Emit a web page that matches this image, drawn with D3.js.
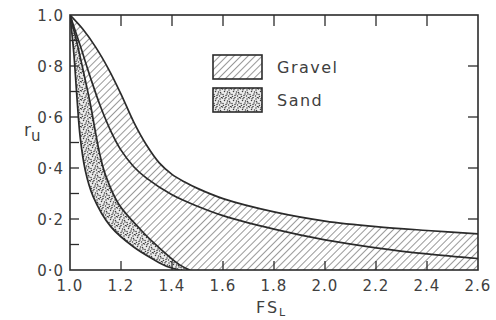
<!DOCTYPE html>
<html lang="en">
<meta charset="UTF-8">
<title>ru vs FSL</title>
<style>
  body { margin: 0; background: #fff; }
  svg text { font-family: "DejaVu Sans", sans-serif; fill: #404040; }
</style>
<script src="https://d3js.org/d3.v7.min.js"></script>
<body>
<svg id="chart" width="496" height="320"></svg>
<script>
// upper bound of the gravel band
var gravelUpper = [[1.0,1.0],[1.05,0.945],[1.1,0.875],[1.15,0.79],[1.2,0.69],[1.25,0.58],[1.3,0.49],[1.35,0.42],[1.4,0.375],[1.45,0.345],[1.5,0.32],[1.6,0.28],[1.8,0.228],[2.0,0.192],[2.2,0.17],[2.4,0.155],[2.6,0.142]];
// middle line in the hatched region
var gravelMid = [[1.0,1.0],[1.04,0.88],[1.08,0.755],[1.12,0.64],[1.16,0.545],[1.2,0.47],[1.25,0.405],[1.3,0.36],[1.4,0.295],[1.5,0.25],[1.6,0.213],[1.8,0.16],[2.0,0.118],[2.2,0.087],[2.4,0.063],[2.6,0.045]];
// sand band, right and left edges
var sandUpper = [[1.0,1.0],[1.03,0.88],[1.05,0.79],[1.08,0.65],[1.1,0.54],[1.12,0.44],[1.14,0.37],[1.19,0.26],[1.28,0.155],[1.33,0.105],[1.38,0.06],[1.43,0.02],[1.47,0.0]];
var sandLower = [[1.0,1.0],[1.015,0.85],[1.027,0.68],[1.04,0.52],[1.06,0.39],[1.09,0.29],[1.16,0.17],[1.25,0.09],[1.33,0.04],[1.38,0.014],[1.43,0.0]];

var xTicks = [1.0,1.2,1.4,1.6,1.8,2.0,2.2,2.4,2.6];
var yTicks = [0.0,0.2,0.4,0.6,0.8,1.0];
var yMinor = [0.1,0.3,0.5,0.7,0.9];
var legendItems = ["Gravel","Sand"];

var svg = d3.select("#chart");
var ink = "#2b2b2b";
var pL = 70, pR = 478, pT = 15, pB = 270;

var x = d3.scaleLinear().domain([1.0, 2.6]).range([pL, pR]);
var y = d3.scaleLinear().domain([0, 1]).range([pB, pT]);

var defs = svg.append("defs");
var hatch = defs.append("pattern")
    .attr("id", "hatch")
    .attr("patternUnits", "userSpaceOnUse")
    .attr("width", 5).attr("height", 5)
    .attr("patternTransform", "rotate(45)");
hatch.append("line")
    .attr("x1", 0).attr("y1", 0).attr("x2", 0).attr("y2", 5)
    .attr("stroke", "#444").attr("stroke-width", 1.1);

// stipple for the sand band, fixed speck positions in a 9px tile
var dots = defs.append("pattern")
    .attr("id", "dots")
    .attr("patternUnits", "userSpaceOnUse")
    .attr("width", 9).attr("height", 9);
dots.append("rect").attr("width", 9).attr("height", 9).attr("fill", "#ececec");
[[0.5,1],[4,0.5],[7,2],[2.5,3.5],[5.5,4],[8,6],[1,6.5],[4,7.5],[6.5,8],[3,1.8],[7.5,4.5],[1.5,8.5],[5,6],[8.5,0.5]].forEach(function(p) {
  dots.append("circle").attr("cx", p[0]).attr("cy", p[1])
      .attr("r", 0.75).attr("fill", "#3c3c3c");
});

var clip = defs.append("clipPath").attr("id", "plot");
clip.append("rect").attr("x", pL).attr("y", pT)
    .attr("width", pR - pL).attr("height", pB - pT);

var line = d3.line().x(d => x(d[0])).y(d => y(d[1])).curve(d3.curveCatmullRom);
var under = d3.area().x(d => x(d[0])).y0(y(0)).y1(d => y(d[1])).curve(d3.curveCatmullRom);

var g = svg.append("g").attr("clip-path", "url(#plot)");
g.append("path").attr("d", under(gravelUpper)).attr("fill", "url(#hatch)");
g.append("path").attr("d", under(sandUpper)).attr("fill", "#fff");
g.append("path").attr("d", under(sandUpper)).attr("fill", "url(#dots)");
g.append("path").attr("d", under(sandLower)).attr("fill", "#fff");

[gravelUpper, gravelMid, sandUpper, sandLower].forEach(function(s) {
  g.append("path").attr("d", line(s))
      .attr("fill", "none").attr("stroke", ink).attr("stroke-width", 1.7);
});

// frame
svg.append("rect").attr("x", pL).attr("y", pT)
    .attr("width", pR - pL).attr("height", pB - pT)
    .attr("fill", "none").attr("stroke", ink).attr("stroke-width", 1.6);

// inward ticks on all four sides
xTicks.slice(1, -1).forEach(function(t) {
  svg.append("line").attr("x1", x(t)).attr("x2", x(t)).attr("y1", pB).attr("y2", pB - 9)
      .attr("stroke", ink).attr("stroke-width", 1.3);
  svg.append("line").attr("x1", x(t)).attr("x2", x(t)).attr("y1", pT).attr("y2", pT + 11)
      .attr("stroke", ink).attr("stroke-width", 1.3);
});
yTicks.slice(1, -1).concat(yMinor).forEach(function(t) {
  svg.append("line").attr("x1", pL).attr("x2", pL + 9).attr("y1", y(t)).attr("y2", y(t))
      .attr("stroke", ink).attr("stroke-width", 1.3);
});
yTicks.slice(1, -1).forEach(function(t) {
  svg.append("line").attr("x1", pR).attr("x2", pR - 10).attr("y1", y(t)).attr("y2", y(t))
      .attr("stroke", ink).attr("stroke-width", 1.3);
});

// tick labels
svg.selectAll("text.xl").data(xTicks).enter().append("text")
    .attr("class", "xl")
    .attr("x", d => x(d)).attr("y", 291)
    .attr("text-anchor", "middle")
    .style("font-size", "15px").style("letter-spacing", "1px")
    .text(d => d.toFixed(1));
svg.selectAll("text.yl").data(yTicks).enter().append("text")
    .attr("class", "yl")
    .attr("x", 64).attr("y", d => y(d) + 5.5)
    .attr("text-anchor", "end")
    .style("font-size", "15px").style("letter-spacing", "1px")
    .text(d => d === 1 ? "1.0" : d.toFixed(1).replace(".", "·"));

// axis titles
var xt = svg.append("text").attr("x", 256).attr("y", 313)
    .style("font-size", "16px").style("letter-spacing", "2px");
xt.append("tspan").text("FS");
xt.append("tspan").attr("dy", 3).style("font-size", "11px").text("L");

var yt = svg.append("text").attr("x", 24).attr("y", 136).style("font-size", "17px");
yt.append("tspan").text("r");
yt.append("tspan").attr("dy", 5).style("font-size", "15px").text("u");

// legend
var lg = svg.selectAll("g.leg").data(legendItems).enter().append("g")
    .attr("class", "leg")
    .attr("transform", (d, i) => "translate(213," + (55 + i * 33) + ")");
lg.append("rect").attr("width", 49).attr("height", 24)
    .attr("fill", (d, i) => i === 0 ? "url(#hatch)" : "url(#dots)")
    .attr("stroke", ink).attr("stroke-width", 1.6);
lg.append("text").attr("x", 64).attr("y", 18)
    .style("font-size", "16px").style("letter-spacing", "1.5px")
    .text(d => d);
</script>
</body>
</html>
